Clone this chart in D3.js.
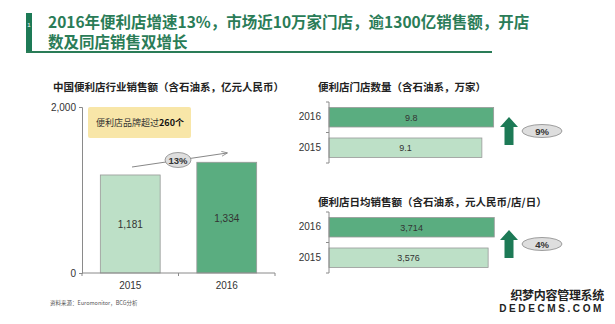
<!DOCTYPE html>
<html><head><meta charset="utf-8">
<script src="https://cdn.jsdelivr.net/npm/d3@7"></script>
<style>body{margin:0;background:#fff}svg{display:block}</style>
</head><body>
<script>
const years = ["2015", "2016"];
const salesValues = [1181, 1334];
const salesLabels = ["1,181", "1,334"];
const salesTicks = [0, 2000];
const storeYears = ["2016", "2015"];
const storeValues = [9.8, 9.1];
const storeLabels = ["9.8", "9.1"];
const dailyValues = [3714, 3576];
const dailyLabels = ["3,714", "3,576"];
const growthLabels = ["13%", "9%", "4%"];

const CJK = "'Noto Sans CJK SC', 'Noto Sans', sans-serif";
const LAT = "'Liberation Sans', Arial, sans-serif";
const W = 615, H = 324;
const svg = d3.select("body").append("svg").attr("width", W).attr("height", H);
const light = "#bde0c7", dark = "#5aad80", deep = "#1d7a56", gray = "#8a8a8a";

// header
svg.append("rect").attr("x", 26).attr("y", 13).attr("width", 6).attr("height", 39).attr("fill", deep);
svg.append("text").attr("x", 29).attr("y", 27).attr("text-anchor", "middle").attr("fill", "#fff")
  .attr("font-family", LAT).attr("font-size", 6).text("1");
const ttl = svg.append("text").attr("font-family", CJK).attr("font-weight", "bold").attr("font-size", 15.5).attr("fill", "#2a7c57");
ttl.append("tspan").attr("x", 48).attr("y", 28).text("2016年便利店增速13%，市场近10万家门店，逾1300亿销售额，开店");
ttl.append("tspan").attr("x", 48).attr("y", 48).text("数及同店销售双增长");
svg.append("rect").attr("x", 26).attr("y", 51).attr("width", 466).attr("height", 2).attr("fill", "#2a7c57");

// left chart
svg.append("text").attr("x", 53).attr("y", 91).attr("font-family", CJK).attr("font-weight", "bold")
  .attr("font-size", 10.5).attr("fill", "#222").text("中国便利店行业销售额（含石油系，亿元人民币）");
const x = d3.scaleBand().domain(years).range([82, 275]).paddingInner(0.38).paddingOuter(0.19);
const y = d3.scaleLinear().domain([0, 2000]).range([273, 107]);
const gL = svg.append("g");
gL.selectAll("rect.bar").data(years).join("rect").attr("class", "bar")
  .attr("x", d => x(d)).attr("width", x.bandwidth())
  .attr("y", (d, i) => y(salesValues[i])).attr("height", (d, i) => y(0) - y(salesValues[i]))
  .attr("fill", (d, i) => i ? dark : light).attr("stroke", "#999").attr("stroke-width", 0.8);
gL.selectAll("text.val").data(years).join("text").attr("class", "val")
  .attr("x", d => x(d) + x.bandwidth() / 2).attr("y", (d, i) => (y(salesValues[i]) + y(0)) / 2 + 4)
  .attr("text-anchor", "middle").attr("font-family", LAT).attr("font-size", 10).attr("fill", "#333")
  .text((d, i) => salesLabels[i]);
const ya = svg.append("g").attr("transform", "translate(82,0)")
  .call(d3.axisLeft(y).tickValues(salesTicks).tickSize(3).tickFormat(d3.format(",")));
const xa = svg.append("g").attr("transform", "translate(0,273)")
  .call(d3.axisBottom(x).tickSize(0).tickPadding(9));
[ya, xa].forEach(a => {
  a.select(".domain").attr("stroke", gray);
  a.selectAll("line").attr("stroke", gray);
  a.selectAll("text").attr("font-family", LAT).attr("font-size", 10).attr("fill", "#333");
});
xa.select(".domain").remove();
svg.append("line").attr("x1", 82).attr("x2", 275).attr("y1", 273).attr("y2", 273).attr("stroke", gray);
[82, (x("2015") + x.bandwidth() + x("2016")) / 2, 275].forEach(px =>
  svg.append("line").attr("x1", px).attr("x2", px).attr("y1", 273).attr("y2", 276).attr("stroke", gray));

// callout box
svg.append("rect").attr("x", 88).attr("y", 107).attr("width", 103).attr("height", 31).attr("rx", 2).attr("fill", "#f8e6a8");
const cb = svg.append("text").attr("x", 96).attr("y", 126).attr("font-family", CJK).attr("font-size", 9).attr("fill", "#333");
cb.append("tspan").text("便利店品牌超过");
cb.append("tspan").attr("font-weight", "bold").attr("fill", "#111").text("260个");

// growth arrow
const defs = svg.append("defs");
defs.append("marker").attr("id", "ah").attr("viewBox", "0 0 10 10").attr("refX", 9).attr("refY", 5)
  .attr("markerWidth", 6).attr("markerHeight", 6).attr("orient", "auto")
  .append("path").attr("d", "M0,1L10,5L0,9").attr("fill", "none").attr("stroke", "#777").attr("stroke-width", 1.2);
svg.append("line").attr("x1", 132).attr("y1", 167).attr("x2", 227).attr("y2", 153)
  .attr("stroke", "#888").attr("stroke-width", 1).attr("marker-end", "url(#ah)");
function bubble(cx, cy, rx, ry, t) {
  svg.append("ellipse").attr("cx", cx).attr("cy", cy).attr("rx", rx).attr("ry", ry)
    .attr("fill", "#dedede").attr("stroke", "#888").attr("stroke-width", 0.8);
  svg.append("text").attr("x", cx).attr("y", cy + 3.5).attr("text-anchor", "middle")
    .attr("font-family", LAT).attr("font-weight", "bold").attr("font-size", 9.5).attr("fill", "#333").text(t);
}
bubble(178, 160, 13, 7.5, growthLabels[0]);

// right charts
function hbar(title, titleY, y0, y1, values, labels, domainMax, rangeMax, growth, gy) {
  svg.append("text").attr("x", 318).attr("y", titleY).attr("font-family", CJK).attr("font-weight", "bold")
    .attr("font-size", 10.5).attr("fill", "#222").text(title);
  const yb = d3.scaleBand().domain(storeYears).range([y0, y1]).paddingInner(0.36).paddingOuter(0.18);
  const xs = d3.scaleLinear().domain([0, domainMax]).range([329, rangeMax]);
  svg.selectAll(null).data(storeYears).join("rect")
    .attr("x", xs(0)).attr("y", d => yb(d)).attr("height", yb.bandwidth())
    .attr("width", (d, i) => xs(values[i]) - xs(0))
    .attr("fill", (d, i) => i ? light : dark).attr("stroke", "#999").attr("stroke-width", 0.8);
  svg.selectAll(null).data(storeYears).join("text")
    .attr("x", (d, i) => (xs(0) + xs(values[i])) / 2).attr("y", d => yb(d) + yb.bandwidth() / 2 + 3.5)
    .attr("text-anchor", "middle").attr("font-family", LAT).attr("font-size", 9).attr("fill", "#333")
    .text((d, i) => labels[i]);
  const ax = svg.append("g").attr("transform", "translate(329,0)").call(d3.axisLeft(yb).tickSize(0).tickPadding(8));
  ax.select(".domain").attr("stroke", gray);
  ax.selectAll("text").attr("font-family", LAT).attr("font-size", 10).attr("fill", "#333");
  ax.select(".domain").attr("d", `M-3,${y0}H0V${y1}H-3`);
  svg.append("line").attr("x1", 326).attr("x2", 329).attr("y1", (y0 + y1) / 2).attr("y2", (y0 + y1) / 2).attr("stroke", gray);
  // up arrow
  const ax0 = 509, top = gy - 14, bot = gy + 14;
  svg.append("path").attr("d", `M${ax0},${top}L${ax0 + 9},${top + 10}L${ax0 + 4.5},${top + 10}L${ax0 + 4.5},${bot}L${ax0 - 4.5},${bot}L${ax0 - 4.5},${top + 10}L${ax0 - 9},${top + 10}Z`)
    .attr("fill", deep);
  bubble(542, gy, 20, 6.5, growth);
}
hbar("便利店门店数量（含石油系，万家）", 91, 102, 163, storeValues, storeLabels, 10, 497, growthLabels[1], 131);
hbar("便利店日均销售额（含石油系，元人民币/店/日）", 206, 212, 273, dailyValues, dailyLabels, 4000, 507, growthLabels[2], 244);

// source
svg.append("text").attr("x", 50).attr("y", 305).attr("font-family", CJK).attr("font-size", 5.5).attr("fill", "#555")
  .text("资料来源：Euromonitor，BCG分析");

// watermark
svg.append("text").attr("x", 604).attr("y", 300).attr("text-anchor", "end").attr("font-family", CJK).attr("font-weight", "bold")
  .attr("font-size", 12).attr("fill", "#222").attr("stroke", "#fff").attr("stroke-width", 2)
  .attr("paint-order", "stroke").attr("letter-spacing", -0.3).text("织梦内容管理系统");
svg.append("text").attr("x", 604).attr("y", 312).attr("text-anchor", "end").attr("font-family", LAT).attr("font-weight", "bold")
  .attr("font-size", 10).attr("letter-spacing", 2.6).attr("fill", "#222").attr("stroke", "#fff").attr("stroke-width", 2)
  .attr("paint-order", "stroke").text("DEDECMS.COM");
</script>
</body></html>
